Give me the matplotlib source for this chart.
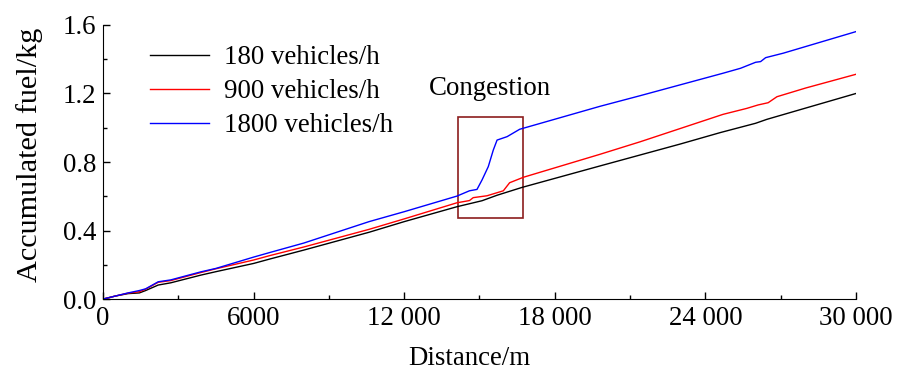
import matplotlib
matplotlib.use('Agg')
import matplotlib.pyplot as plt
from matplotlib.patches import Rectangle
from matplotlib.ticker import MultipleLocator, FixedLocator

plt.rcParams['font.family'] = 'Liberation Serif'
plt.rcParams['font.size'] = 19.4

# distance (m) / accumulated fuel (kg) for each traffic volume
dist_180 = [0, 500, 1000, 1450, 1700, 2200, 2700, 3900, 4500, 6000, 6650, 8000,
            10600, 12000, 14100, 14700, 15100, 15700, 16700, 19800, 23000, 24600,
            26000, 26450, 28000, 30000]
fuel_180 = [0, 0.018, 0.032, 0.036, 0.050, 0.082, 0.095, 0.140, 0.160, 0.208, 0.234, 0.286,
            0.390, 0.452, 0.539, 0.560, 0.574, 0.606, 0.652, 0.777, 0.905, 0.972,
            1.026, 1.049, 1.115, 1.200]

dist_900 = [0, 500, 1000, 1450, 1700, 2200, 2700, 3900, 4500, 6000, 6650, 8000,
            10600, 12000, 14100, 14600, 14750, 15300, 15950, 16200, 16750, 19800,
            21400, 24700, 25650, 26100, 26500, 26850, 28000, 30000]
fuel_900 = [0, 0.018, 0.035, 0.043, 0.058, 0.098, 0.108, 0.155, 0.177, 0.228, 0.254, 0.304,
            0.407, 0.468, 0.562, 0.575, 0.592, 0.603, 0.632, 0.679, 0.711, 0.845,
            0.918, 1.078, 1.113, 1.133, 1.146, 1.181, 1.232, 1.312]

dist_1800 = [0, 500, 1000, 1450, 1700, 2200, 2700, 3900, 4500, 6000, 6650, 8000,
             10600, 12000, 14100, 14600, 14900, 15100, 15350, 15550, 15700, 16100,
             16600, 19800, 21400, 24700, 25400, 26000, 26200, 26400, 27100, 30000]
fuel_1800 = [0, 0.018, 0.036, 0.050, 0.060, 0.101, 0.112, 0.159, 0.179, 0.245, 0.272, 0.327,
             0.452, 0.510, 0.601, 0.632, 0.640, 0.695, 0.773, 0.870, 0.928, 0.948,
             0.991, 1.125, 1.187, 1.318, 1.347, 1.382, 1.386, 1.409, 1.435, 1.561]

series = [('180 vehicles/h', dist_180, fuel_180, 'black'),
          ('900 vehicles/h', dist_900, fuel_900, '#ff0000'),
          ('1800 vehicles/h', dist_1800, fuel_1800, '#0000ff')]

xticks = [0, 6000, 12000, 18000, 24000, 30000]
xtick_labels = ['0', '6000', '12 000', '18 000', '24 000', '30 000']
yticks = [0.0, 0.4, 0.8, 1.2, 1.6]


def main():
    fig = plt.figure(figsize=(9.09, 3.72), dpi=100)
    ax = fig.add_axes([0.1133, 0.196, 0.8284, 0.737])

    for nome, x, y, cor in series:
        ax.plot(x, y, color=cor, lw=1.0, label=nome)

    # caixa da zona de congestionamento
    caixa = Rectangle((14150, 0.473), 2590, 0.59, fill=False,
                      edgecolor='#8c1e1e', lw=1.2)
    ax.add_patch(caixa)
    ax.text(15420, 1.19, 'Congestion', ha='center', va='baseline')

    ax.set_xlim(0, 30000)
    ax.set_ylim(0, 1.6)
    ax.xaxis.set_major_locator(FixedLocator(xticks))
    ax.set_xticklabels(xtick_labels)
    ax.xaxis.set_minor_locator(MultipleLocator(3000))
    ax.set_yticks(yticks)
    ax.set_yticklabels(['%.1f' % v for v in yticks])
    ax.yaxis.set_minor_locator(MultipleLocator(0.2))

    ax.tick_params(which='both', direction='in', width=1.0)
    ax.tick_params(which='major', length=5, pad=5)
    ax.tick_params(which='minor', length=3)
    ax.spines['top'].set_visible(False)
    ax.spines['right'].set_visible(False)

    ax.set_xlabel('Distance/m')
    ax.xaxis.set_label_coords(0.486, -0.17)
    ax.set_ylabel('Accumulated fuel/kg', fontsize=21.8)
    ax.yaxis.set_label_coords(-0.08, 0.526)

    ax.legend(loc='upper left', bbox_to_anchor=(0.0624, 0.925), frameon=False,
              handlelength=2.2, handletextpad=0.55, labelspacing=0.33,
              borderpad=0, borderaxespad=0)

    fig.savefig('out.png', dpi=100)


main()
